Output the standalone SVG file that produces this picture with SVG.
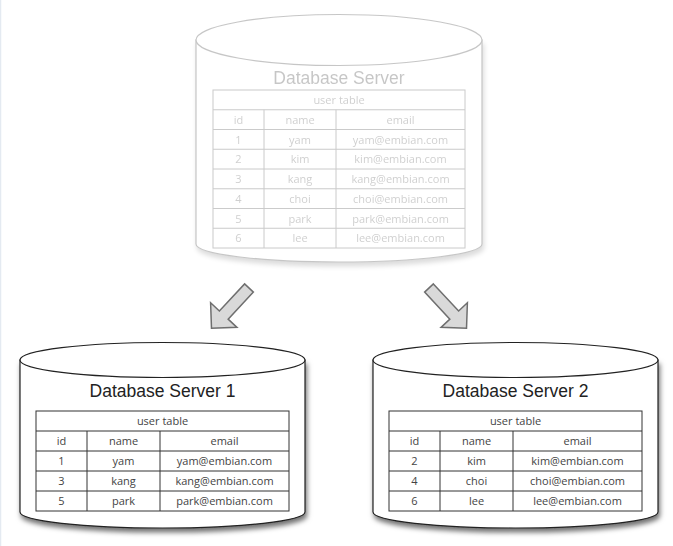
<svg xmlns="http://www.w3.org/2000/svg" width="673" height="546" viewBox="0 0 673 546">
<style>
.cyl{fill:#fff;stroke:#222;stroke-width:1.2}
.grid{fill:none;stroke:#333;stroke-width:1}
.title{font-family:"Liberation Sans",Arial,sans-serif;font-size:17.5px;fill:#222;text-anchor:middle}
.cell{font-family:"Open Sans","Noto Sans",sans-serif;font-size:11px;fill:#444;text-anchor:middle}
.arrow{fill:#d9d9d9;stroke:#6f6f6f;stroke-width:1.5;stroke-linejoin:miter}
</style>
<defs>
<filter id="sh" x="-10%" y="-10%" width="120%" height="130%">
<feDropShadow dx="1.5" dy="4" stdDeviation="2.5" flood-color="#000" flood-opacity="0.55"/>
</filter>
</defs>
<rect x="0" y="0" width="673" height="546" fill="#fff"/>
<line x1="0.5" y1="0" x2="0.5" y2="546" stroke="#e4eaf1" stroke-width="1.5"/>

<g id="db-server" opacity="0.25">
<g filter="url(#sh)">
<path class="cyl" d="M196,40 L196,244 A143,18 0 0 0 482,244 L482,40 Z"/>
</g>
<ellipse class="cyl" cx="339" cy="40" rx="143" ry="25.5"/>
<text class="title" x="339" y="84">Database Server</text>
<g class="grid">
<rect x="213" y="90" width="252" height="158"/>
<line x1="213" y1="109.75" x2="465" y2="109.75"/>
<line x1="213" y1="129.5" x2="465" y2="129.5"/>
<line x1="213" y1="149.25" x2="465" y2="149.25"/>
<line x1="213" y1="169" x2="465" y2="169"/>
<line x1="213" y1="188.75" x2="465" y2="188.75"/>
<line x1="213" y1="208.5" x2="465" y2="208.5"/>
<line x1="213" y1="228.25" x2="465" y2="228.25"/>
<line x1="264" y1="109.75" x2="264" y2="248"/>
<line x1="336" y1="109.75" x2="336" y2="248"/>
</g>
<text class="cell" x="339" y="104">user table</text>
<text class="cell" x="238.5" y="123.5">id</text><text class="cell" x="300" y="123.5">name</text><text class="cell" x="400.5" y="123.5">email</text>
<text class="cell" x="238.5" y="143.5">1</text><text class="cell" x="300" y="143.5">yam</text><text class="cell" x="400.5" y="143.5">yam@embian.com</text>
<text class="cell" x="238.5" y="163">2</text><text class="cell" x="300" y="163">kim</text><text class="cell" x="400.5" y="163">kim@embian.com</text>
<text class="cell" x="238.5" y="183">3</text><text class="cell" x="300" y="183">kang</text><text class="cell" x="400.5" y="183">kang@embian.com</text>
<text class="cell" x="238.5" y="202.5">4</text><text class="cell" x="300" y="202.5">choi</text><text class="cell" x="400.5" y="202.5">choi@embian.com</text>
<text class="cell" x="238.5" y="222.5">5</text><text class="cell" x="300" y="222.5">park</text><text class="cell" x="400.5" y="222.5">park@embian.com</text>
<text class="cell" x="238.5" y="242">6</text><text class="cell" x="300" y="242">lee</text><text class="cell" x="400.5" y="242">lee@embian.com</text>
</g>

<g id="connectors">
<polygon class="arrow" transform="translate(249,288) rotate(133)" points="0,-6 37,-6 37,-18 55,0 37,18 37,6 0,6"/>
<polygon class="arrow" transform="translate(429,288) rotate(47)" points="0,-6 37,-6 37,-18 55,0 37,18 37,6 0,6"/>
</g>

<g id="db-server-1">
<g filter="url(#sh)">
<path class="cyl" d="M20,360 L20,512 A142.5,16 0 0 0 305,512 L305,360 Z"/>
</g>
<ellipse class="cyl" cx="162.5" cy="360" rx="142.5" ry="17.5"/>
<text class="title" x="162.5" y="397">Database Server 1</text>
<g class="grid">
<rect x="36" y="411" width="253" height="100"/>
<line x1="36" y1="431" x2="289" y2="431"/>
<line x1="36" y1="451" x2="289" y2="451"/>
<line x1="36" y1="471" x2="289" y2="471"/>
<line x1="36" y1="491" x2="289" y2="491"/>
<line x1="87" y1="431" x2="87" y2="511"/>
<line x1="160" y1="431" x2="160" y2="511"/>
</g>
<text class="cell" x="162.5" y="425">user table</text>
<text class="cell" x="61.5" y="445">id</text><text class="cell" x="123.5" y="445">name</text><text class="cell" x="224.5" y="445">email</text>
<text class="cell" x="61.5" y="465">1</text><text class="cell" x="123.5" y="465">yam</text><text class="cell" x="224.5" y="465">yam@embian.com</text>
<text class="cell" x="61.5" y="485">3</text><text class="cell" x="123.5" y="485">kang</text><text class="cell" x="224.5" y="485">kang@embian.com</text>
<text class="cell" x="61.5" y="505">5</text><text class="cell" x="123.5" y="505">park</text><text class="cell" x="224.5" y="505">park@embian.com</text>
</g>

<g id="db-server-2">
<g filter="url(#sh)">
<path class="cyl" d="M373,360 L373,512 A142.5,16 0 0 0 658,512 L658,360 Z"/>
</g>
<ellipse class="cyl" cx="515.5" cy="360" rx="142.5" ry="17.5"/>
<text class="title" x="515.5" y="397">Database Server 2</text>
<g class="grid">
<rect x="389" y="411" width="253" height="100"/>
<line x1="389" y1="431" x2="642" y2="431"/>
<line x1="389" y1="451" x2="642" y2="451"/>
<line x1="389" y1="471" x2="642" y2="471"/>
<line x1="389" y1="491" x2="642" y2="491"/>
<line x1="440" y1="431" x2="440" y2="511"/>
<line x1="513" y1="431" x2="513" y2="511"/>
</g>
<text class="cell" x="515.5" y="425">user table</text>
<text class="cell" x="414.5" y="445">id</text><text class="cell" x="476.5" y="445">name</text><text class="cell" x="577.5" y="445">email</text>
<text class="cell" x="414.5" y="465">2</text><text class="cell" x="476.5" y="465">kim</text><text class="cell" x="577.5" y="465">kim@embian.com</text>
<text class="cell" x="414.5" y="485">4</text><text class="cell" x="476.5" y="485">choi</text><text class="cell" x="577.5" y="485">choi@embian.com</text>
<text class="cell" x="414.5" y="505">6</text><text class="cell" x="476.5" y="505">lee</text><text class="cell" x="577.5" y="505">lee@embian.com</text>
</g>
</svg>
